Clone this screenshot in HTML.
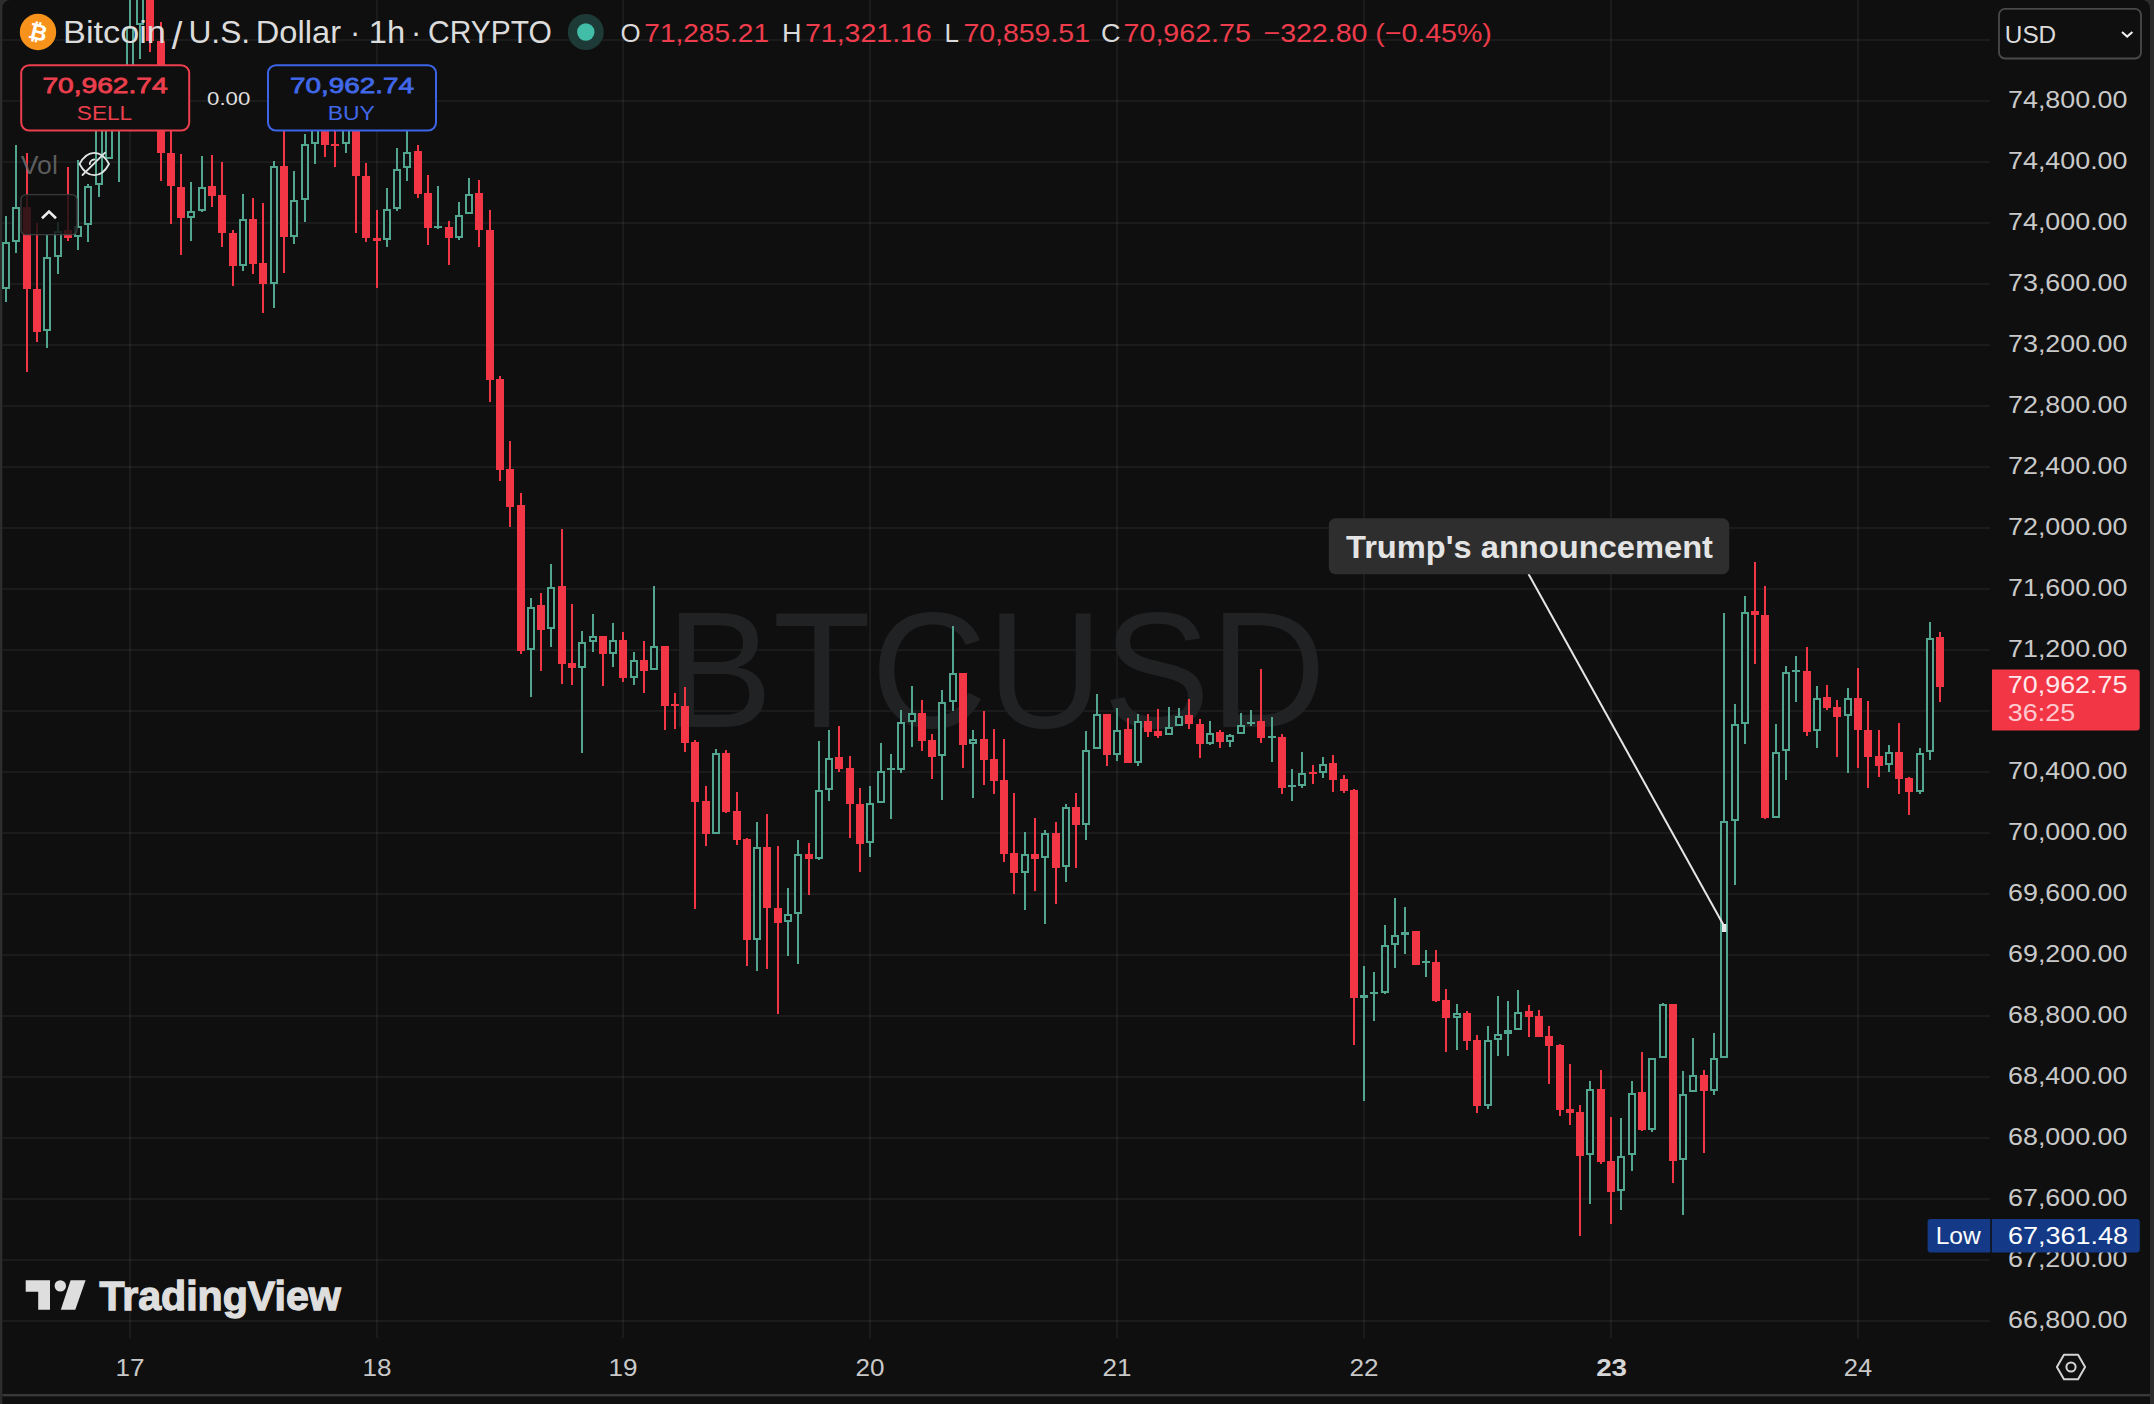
<!DOCTYPE html><html><head><meta charset="utf-8"><title>BTCUSD chart</title>
<style>html,body{margin:0;padding:0;background:#2d2d2d;}svg{display:block}text{font-family:"Liberation Sans",sans-serif;}</style></head><body>
<svg width="2154" height="1404" viewBox="0 0 2154 1404">
<defs><clipPath id="pane"><rect x="2" y="0" width="1988" height="1338"/></clipPath></defs>
<rect width="2154" height="1404" fill="#2d2d2d"/>
<path d="M2.3 1404V8a8 8 0 0 1 8-8H2142a8 8 0 0 1 8 8V1404Z" fill="#0f0f0f"/>
<path d="M2.3 40 H1990 M2.3 101 H1990 M2.3 162 H1990 M2.3 223 H1990 M2.3 284 H1990 M2.3 345 H1990 M2.3 406 H1990 M2.3 467 H1990 M2.3 528 H1990 M2.3 589 H1990 M2.3 650 H1990 M2.3 711 H1990 M2.3 772 H1990 M2.3 833 H1990 M2.3 894 H1990 M2.3 955 H1990 M2.3 1016 H1990 M2.3 1077 H1990 M2.3 1138 H1990 M2.3 1199 H1990 M2.3 1260 H1990 M2.3 1321 H1990" stroke="#fff" stroke-opacity="0.052" stroke-width="2" fill="none"/>
<path d="M130 0 V1338 M377 0 V1338 M623 0 V1338 M870 0 V1338 M1117 0 V1338 M1364 0 V1338 M1611 0 V1338 M1858 0 V1338" stroke="#fff" stroke-opacity="0.052" stroke-width="2" fill="none"/>
<text x="665.63" y="727" font-size="164.5" fill="#202224" textLength="660.46" lengthAdjust="spacingAndGlyphs">BTCUSD</text>
<g clip-path="url(#pane)" shape-rendering="crispEdges">
<path d="M27 153 V372 M37 223 V342 M68 167 V241 M150 -5 V52 M161 22 V181 M171 120 V224 M181 154 V255 M212 155 V207 M222 162 V247 M233 230 V286 M253 198 V274 M263 203 V313 M284 125 V273 M325 110 V157 M335 115 V167 M356 110 V233 M366 163 V242 M377 210 V288 M418 145 V198 M428 175 V245 M449 221 V265 M479 180 V247 M490 210 V402 M500 376 V481 M510 441 V527 M521 493 V654 M541 593 V671 M562 529 V684 M572 604 V685 M603 636 V686 M623 632 V682 M644 641 V693 M665 646 V730 M675 693 V729 M685 687 V752 M695 740 V909 M706 786 V846 M726 750 V813 M737 792 V845 M747 838 V966 M767 814 V969 M778 846 V1014 M809 843 V895 M839 726 V772 M850 756 V838 M860 788 V872 M922 700 V751 M932 734 V779 M963 673 V768 M984 711 V785 M994 729 V794 M1004 739 V862 M1014 793 V894 M1035 818 V891 M1056 822 V904 M1076 793 V868 M1107 714 V766 M1128 718 V763 M1148 714 V737 M1158 709 V738 M1189 699 V729 M1200 719 V758 M1220 730 V748 M1261 669 V743 M1282 734 V794 M1313 765 V784 M1333 755 V792 M1344 775 V793 M1354 789 V1045 M1416 931 V965 M1436 950 V1002 M1446 989 V1052 M1467 1011 V1050 M1477 1035 V1113 M1529 1005 V1037 M1539 1010 V1037 M1549 1026 V1084 M1560 1044 V1116 M1570 1064 V1125 M1580 1105 V1236 M1601 1070 V1164 M1611 1117 V1224 M1642 1052 V1131 M1673 1004 V1183 M1704 1070 V1153 M1755 562 V664 M1765 586 V819 M1807 647 V736 M1827 685 V710 M1837 700 V757 M1858 668 V768 M1868 701 V788 M1879 730 V777 M1899 723 V794 M1909 777 V815 M1940 632 V702" stroke="#f23645" stroke-width="2" fill="none"/>
<path d="M23 207 h8 v82 h-8 Z M33 289 h8 v43 h-8 Z M64 230 h8 v8 h-8 Z M146 -5 h8 v46 h-8 Z M157 41 h8 v112 h-8 Z M167 153 h8 v33 h-8 Z M177 187 h8 v31 h-8 Z M208 186 h8 v10 h-8 Z M218 195 h8 v38 h-8 Z M229 233 h8 v33 h-8 Z M249 219 h8 v45 h-8 Z M259 263 h8 v21 h-8 Z M280 166 h8 v71 h-8 Z M321 120 h8 v25 h-8 Z M331 144 h8 v2 h-8 Z M352 125 h8 v51 h-8 Z M362 176 h8 v62 h-8 Z M373 238 h8 v3 h-8 Z M414 151 h8 v43 h-8 Z M424 193 h8 v35 h-8 Z M445 227 h8 v11 h-8 Z M475 193 h8 v37 h-8 Z M486 230 h8 v150 h-8 Z M496 379 h8 v91 h-8 Z M506 469 h8 v38 h-8 Z M517 505 h8 v146 h-8 Z M537 605 h8 v25 h-8 Z M558 586 h8 v78 h-8 Z M568 663 h8 v5 h-8 Z M599 636 h8 v18 h-8 Z M619 640 h8 v38 h-8 Z M640 660 h8 v11 h-8 Z M661 646 h8 v60 h-8 Z M671 704 h8 v2 h-8 Z M681 706 h8 v37 h-8 Z M691 742 h8 v60 h-8 Z M702 801 h8 v33 h-8 Z M722 753 h8 v59 h-8 Z M733 811 h8 v29 h-8 Z M743 839 h8 v101 h-8 Z M763 847 h8 v61 h-8 Z M774 908 h8 v15 h-8 Z M805 854 h8 v5 h-8 Z M835 757 h8 v12 h-8 Z M846 768 h8 v36 h-8 Z M856 804 h8 v40 h-8 Z M918 713 h8 v28 h-8 Z M928 740 h8 v17 h-8 Z M959 673 h8 v72 h-8 Z M980 739 h8 v21 h-8 Z M990 759 h8 v22 h-8 Z M1000 780 h8 v74 h-8 Z M1010 853 h8 v20 h-8 Z M1031 854 h8 v5 h-8 Z M1052 833 h8 v35 h-8 Z M1072 807 h8 v18 h-8 Z M1103 714 h8 v41 h-8 Z M1124 729 h8 v34 h-8 Z M1144 721 h8 v11 h-8 Z M1154 731 h8 v5 h-8 Z M1185 715 h8 v9 h-8 Z M1196 724 h8 v20 h-8 Z M1216 732 h8 v10 h-8 Z M1257 721 h8 v17 h-8 Z M1278 737 h8 v51 h-8 Z M1309 772 h8 v2 h-8 Z M1329 763 h8 v17 h-8 Z M1340 779 h8 v12 h-8 Z M1350 790 h8 v208 h-8 Z M1412 931 h8 v34 h-8 Z M1432 962 h8 v39 h-8 Z M1442 1000 h8 v18 h-8 Z M1463 1013 h8 v28 h-8 Z M1473 1040 h8 v66 h-8 Z M1525 1011 h8 v6 h-8 Z M1535 1016 h8 v21 h-8 Z M1545 1036 h8 v10 h-8 Z M1556 1045 h8 v65 h-8 Z M1566 1109 h8 v4 h-8 Z M1576 1112 h8 v44 h-8 Z M1597 1089 h8 v73 h-8 Z M1607 1161 h8 v31 h-8 Z M1638 1092 h8 v38 h-8 Z M1669 1004 h8 v157 h-8 Z M1700 1075 h8 v16 h-8 Z M1751 611 h8 v4 h-8 Z M1761 615 h8 v203 h-8 Z M1803 671 h8 v61 h-8 Z M1823 697 h8 v11 h-8 Z M1833 707 h8 v10 h-8 Z M1854 698 h8 v32 h-8 Z M1864 730 h8 v27 h-8 Z M1875 756 h8 v10 h-8 Z M1895 752 h8 v27 h-8 Z M1905 778 h8 v14 h-8 Z M1936 637 h8 v50 h-8 Z" fill="#f23645"/>
<path d="M6 216 V242 M6 289 V302 M16 145 V207 M16 242 V253 M47 235 V257 M47 331 V348 M58 222 V231 M58 257 V274 M78 160 V226 M78 237 V250 M88 184 V186 M88 225 V242 M99 90 V100 M99 185 V197 M109 70 V80 M119 66 V75 M119 125 V182 M130 -5 V27 M140 25 V59 M191 182 V211 M191 218 V241 M202 156 V187 M202 211 V212 M243 194 V219 M243 266 V271 M274 161 V166 M274 284 V308 M294 171 V200 M294 237 V244 M305 134 V144 M305 200 V222 M315 110 V120 M315 144 V164 M346 110 V120 M346 144 V153 M387 188 V209 M387 240 V247 M397 148 V169 M397 209 V211 M407 120 V152 M407 168 V181 M438 186 V226 M438 228 V229 M459 202 V215 M459 238 V240 M469 178 V194 M531 598 V607 M531 650 V697 M551 564 V587 M551 629 V647 M582 631 V642 M582 668 V753 M593 614 V636 M593 642 V652 M613 623 V640 M613 654 V667 M634 652 V660 M634 678 V685 M654 586 V646 M716 749 V753 M757 822 V847 M757 940 V971 M788 888 V914 M788 922 V956 M798 840 V854 M798 914 V964 M819 741 V790 M819 859 V860 M829 730 V758 M829 790 V801 M870 786 V803 M870 843 V857 M881 743 V771 M891 754 V768 M891 770 V819 M901 710 V722 M901 770 V773 M912 686 V713 M912 722 V747 M942 690 V702 M942 756 V800 M953 626 V673 M953 702 V711 M973 730 V739 M973 744 V798 M1025 832 V854 M1025 873 V910 M1045 830 V833 M1045 858 V924 M1066 804 V807 M1066 867 V882 M1086 731 V750 M1086 825 V840 M1097 694 V714 M1117 708 V730 M1117 755 V761 M1138 714 V721 M1138 763 V766 M1169 707 V727 M1179 708 V716 M1210 721 V733 M1210 744 V745 M1230 734 V735 M1230 742 V747 M1241 713 V725 M1251 710 V722 M1251 724 V726 M1272 717 V736 M1272 738 V762 M1292 769 V785 M1292 787 V801 M1302 752 V773 M1302 786 V788 M1323 757 V764 M1323 773 V778 M1364 966 V995 M1364 998 V1101 M1374 972 V992 M1374 994 V1021 M1385 925 V945 M1385 993 V994 M1395 898 V935 M1395 945 V968 M1405 907 V932 M1405 935 V954 M1426 950 V961 M1426 963 V977 M1457 1004 V1013 M1457 1018 V1050 M1488 1026 V1040 M1488 1106 V1109 M1498 996 V1034 M1498 1040 V1056 M1508 1001 V1030 M1508 1034 V1056 M1518 990 V1012 M1590 1081 V1089 M1590 1155 V1204 M1621 1118 V1156 M1621 1191 V1210 M1632 1081 V1093 M1632 1155 V1171 M1652 1130 V1132 M1663 1003 V1004 M1683 1071 V1094 M1683 1160 V1215 M1693 1038 V1075 M1714 1033 V1058 M1714 1091 V1095 M1724 613 V821 M1735 704 V724 M1735 821 V885 M1745 596 V612 M1745 724 V744 M1776 724 V752 M1786 666 V672 M1786 751 V780 M1796 656 V670 M1796 672 V702 M1817 686 V698 M1817 731 V748 M1848 688 V698 M1848 716 V773 M1889 745 V752 M1889 765 V772 M1920 748 V753 M1920 792 V794 M1930 622 V638 M1930 752 V760" stroke="#52a690" stroke-width="2" fill="none"/>
<path d="M3 243 h6 v45 h-6 Z M13 208 h6 v33 h-6 Z M44 258 h6 v72 h-6 Z M55 232 h6 v24 h-6 Z M75 227 h6 v9 h-6 Z M85 187 h6 v37 h-6 Z M96 101 h6 v83 h-6 Z M106 81 h6 v77 h-6 Z M116 76 h6 v48 h-6 Z M127 28 h6 v81 h-6 Z M137 -4 h6 v28 h-6 Z M188 212 h6 v5 h-6 Z M199 188 h6 v22 h-6 Z M240 220 h6 v45 h-6 Z M271 167 h6 v116 h-6 Z M291 201 h6 v35 h-6 Z M302 145 h6 v54 h-6 Z M312 121 h6 v22 h-6 Z M343 121 h6 v22 h-6 Z M384 210 h6 v29 h-6 Z M394 170 h6 v38 h-6 Z M404 153 h6 v14 h-6 Z M456 216 h6 v21 h-6 Z M466 195 h6 v18 h-6 Z M528 608 h6 v41 h-6 Z M548 588 h6 v40 h-6 Z M579 643 h6 v24 h-6 Z M590 637 h6 v4 h-6 Z M610 641 h6 v12 h-6 Z M631 661 h6 v16 h-6 Z M651 647 h6 v22 h-6 Z M713 754 h6 v79 h-6 Z M754 848 h6 v91 h-6 Z M785 915 h6 v6 h-6 Z M795 855 h6 v58 h-6 Z M816 791 h6 v67 h-6 Z M826 759 h6 v30 h-6 Z M867 804 h6 v38 h-6 Z M878 772 h6 v30 h-6 Z M898 723 h6 v46 h-6 Z M909 714 h6 v7 h-6 Z M939 703 h6 v52 h-6 Z M950 674 h6 v27 h-6 Z M970 740 h6 v3 h-6 Z M1022 855 h6 v17 h-6 Z M1042 834 h6 v23 h-6 Z M1063 808 h6 v58 h-6 Z M1083 751 h6 v73 h-6 Z M1094 715 h6 v33 h-6 Z M1114 731 h6 v23 h-6 Z M1135 722 h6 v40 h-6 Z M1166 728 h6 v6 h-6 Z M1176 717 h6 v8 h-6 Z M1207 734 h6 v9 h-6 Z M1227 736 h6 v5 h-6 Z M1238 726 h6 v7 h-6 Z M1299 774 h6 v11 h-6 Z M1320 765 h6 v7 h-6 Z M1382 946 h6 v46 h-6 Z M1392 936 h6 v8 h-6 Z M1454 1014 h6 v3 h-6 Z M1485 1041 h6 v64 h-6 Z M1495 1035 h6 v4 h-6 Z M1515 1013 h6 v16 h-6 Z M1587 1090 h6 v64 h-6 Z M1618 1157 h6 v33 h-6 Z M1629 1094 h6 v60 h-6 Z M1649 1059 h6 v70 h-6 Z M1660 1005 h6 v52 h-6 Z M1680 1095 h6 v64 h-6 Z M1690 1076 h6 v15 h-6 Z M1711 1059 h6 v31 h-6 Z M1721 822 h6 v235 h-6 Z M1732 725 h6 v95 h-6 Z M1742 613 h6 v110 h-6 Z M1773 753 h6 v64 h-6 Z M1783 673 h6 v77 h-6 Z M1814 699 h6 v31 h-6 Z M1845 699 h6 v16 h-6 Z M1886 753 h6 v11 h-6 Z M1917 754 h6 v37 h-6 Z M1927 639 h6 v112 h-6 Z" stroke="#52a690" stroke-width="2" fill="#0f0f0f"/>
<path d="M434 226 h8 v2 h-8 Z M887 768 h8 v2 h-8 Z M1247 722 h8 v2 h-8 Z M1268 736 h8 v2 h-8 Z M1288 785 h8 v2 h-8 Z M1360 995 h8 v3 h-8 Z M1370 992 h8 v2 h-8 Z M1401 932 h8 v3 h-8 Z M1422 961 h8 v2 h-8 Z M1504 1030 h8 v4 h-8 Z M1792 670 h8 v2 h-8 Z" fill="#52a690"/>
</g>
<path d="M1528.5 574 L1723.5 925" stroke="#e6e6e6" stroke-width="2" fill="none"/>
<rect x="1722" y="924" width="4.4" height="8" fill="#e6e6e6"/>
<rect x="1328.8" y="518.2" width="400.4" height="56" rx="7" fill="#2e2e2e"/>
<text x="1346" y="557.6" font-size="30.5" fill="#e4e4e4" font-weight="700" textLength="367" lengthAdjust="spacingAndGlyphs">Trump's announcement</text>
<circle cx="38" cy="32" r="18.2" fill="#f7931a"/>
<text x="38" y="40" font-size="22.5" font-weight="700" fill="#fff" text-anchor="middle" transform="rotate(14 38 32)" style="font-family:'DejaVu Sans',sans-serif">₿</text>
<text x="63.12" y="43.4" font-size="30.7" fill="#dcdcdc" textLength="102.74" lengthAdjust="spacingAndGlyphs">Bitcoin</text>
<text x="171.85" y="48.6" font-size="38" fill="#dcdcdc">/</text>
<text x="188.45" y="43.4" font-size="30.7" fill="#dcdcdc" textLength="61.71" lengthAdjust="spacingAndGlyphs">U.S.</text>
<text x="255.8" y="43.4" font-size="30.7" fill="#dcdcdc" textLength="85.2" lengthAdjust="spacingAndGlyphs">Dollar</text>
<text x="350.1" y="43.4" font-size="30.7" fill="#dcdcdc">·</text>
<text x="368.71" y="43.4" font-size="30.7" fill="#dcdcdc" textLength="36.37" lengthAdjust="spacingAndGlyphs">1h</text>
<text x="410.9" y="43.4" font-size="30.7" fill="#dcdcdc">·</text>
<text x="428.01" y="43.4" font-size="30.7" fill="#dcdcdc" textLength="123.78" lengthAdjust="spacingAndGlyphs">CRYPTO</text>
<circle cx="585.8" cy="32" r="18" fill="#1d3a36"/><circle cx="585.8" cy="32" r="8.7" fill="#42bda8"/>
<text x="620.61" y="42.1" font-size="26.1" fill="#dadada" textLength="20.07" lengthAdjust="spacingAndGlyphs">O</text>
<text x="644.3" y="42.1" font-size="26.1" fill="#ee3c4c" textLength="124.7" lengthAdjust="spacingAndGlyphs">71,285.21</text>
<text x="782.01" y="42.1" font-size="26.1" fill="#dadada" textLength="19.55" lengthAdjust="spacingAndGlyphs">H</text>
<text x="805" y="42.1" font-size="26.1" fill="#ee3c4c" textLength="126.79" lengthAdjust="spacingAndGlyphs">71,321.16</text>
<text x="944.52" y="42.1" font-size="26.1" fill="#dadada" textLength="14.47" lengthAdjust="spacingAndGlyphs">L</text>
<text x="963.41" y="42.1" font-size="26.1" fill="#ee3c4c" textLength="126.59" lengthAdjust="spacingAndGlyphs">70,859.51</text>
<text x="1100.98" y="42.1" font-size="26.1" fill="#dadada" textLength="19.52" lengthAdjust="spacingAndGlyphs">C</text>
<text x="1123.62" y="42.1" font-size="26.1" fill="#ee3c4c" textLength="127.18" lengthAdjust="spacingAndGlyphs">70,962.75</text>
<text x="1263.5" y="42.1" font-size="26.1" fill="#ee3c4c" textLength="228.3" lengthAdjust="spacingAndGlyphs">−322.80 (−0.45%)</text>
<rect x="21.2" y="65.2" width="168" height="65.4" rx="8" fill="#0f0f0f" stroke="#ec3f4e" stroke-width="2"/>
<text x="42.4" y="93.4" font-size="22.5" fill="#ec3f4e" textLength="125.2" lengthAdjust="spacingAndGlyphs" stroke="#ec3f4e" stroke-width="0.8">70,962.74</text>
<text x="76.79" y="120" font-size="20" fill="#ec3f4e" textLength="55.42" lengthAdjust="spacingAndGlyphs">SELL</text>
<text x="207.11" y="104.6" font-size="18.5" fill="#e0e0e0" textLength="43.19" lengthAdjust="spacingAndGlyphs">0.00</text>
<rect x="268" y="65.2" width="168" height="65.4" rx="8" fill="#0f0f0f" stroke="#3d64e6" stroke-width="2"/>
<text x="290" y="93.4" font-size="22.5" fill="#4068e8" textLength="124" lengthAdjust="spacingAndGlyphs" stroke="#4068e8" stroke-width="0.8">70,962.74</text>
<text x="327.73" y="120" font-size="20" fill="#4068e8" textLength="47.16" lengthAdjust="spacingAndGlyphs">BUY</text>
<text x="20.8" y="174" font-size="25.7" fill="#6c6c6c" textLength="37.06" lengthAdjust="spacingAndGlyphs" fill-opacity="0.85">Vol</text>
<g fill="none" stroke="#dfe5e3" stroke-width="1.8" stroke-linecap="round"><path d="M79.5 164C84 155.500 89 152.800 94.300 152.800S104.600 155.500 109 164C104.600 172.500 99.600 175.200 94.300 175.200S84 172.500 79.500 164Z"/><path d="M89.800 164a4.500 4.500 0 0 1 4.500-4.500"/><path d="M82.500 175 L105.100 152.600"/></g>
<rect x="21" y="194.6" width="56" height="40" rx="5" fill="#0f0f0f" fill-opacity="0.82" stroke="#3a3a3a" stroke-width="1.4"/>
<path d="M42 218.300 L49 211.600 L56 218.300" fill="none" stroke="#ececec" stroke-width="2.6"/>
<rect x="1999" y="8.9" width="142" height="49.6" rx="6" fill="#0f0f0f" stroke="#4a4a4a" stroke-width="1.8"/>
<text x="2004.82" y="43" font-size="24.6" fill="#dcdcdc" textLength="51.36" lengthAdjust="spacingAndGlyphs">USD</text>
<path d="M2122 32 L2127.200 36.600 L2132.400 32" fill="none" stroke="#f0f0f0" stroke-width="2"/>
<text x="2008" y="108.3" font-size="24" fill="#c9c9c9" textLength="119.5" lengthAdjust="spacingAndGlyphs">74,800.00</text>
<text x="2008" y="169.3" font-size="24" fill="#c9c9c9" textLength="119.5" lengthAdjust="spacingAndGlyphs">74,400.00</text>
<text x="2008" y="230.3" font-size="24" fill="#c9c9c9" textLength="119.5" lengthAdjust="spacingAndGlyphs">74,000.00</text>
<text x="2008" y="291.3" font-size="24" fill="#c9c9c9" textLength="119.5" lengthAdjust="spacingAndGlyphs">73,600.00</text>
<text x="2008" y="352.3" font-size="24" fill="#c9c9c9" textLength="119.5" lengthAdjust="spacingAndGlyphs">73,200.00</text>
<text x="2008" y="413.3" font-size="24" fill="#c9c9c9" textLength="119.5" lengthAdjust="spacingAndGlyphs">72,800.00</text>
<text x="2008" y="474.3" font-size="24" fill="#c9c9c9" textLength="119.5" lengthAdjust="spacingAndGlyphs">72,400.00</text>
<text x="2008" y="535.3" font-size="24" fill="#c9c9c9" textLength="119.5" lengthAdjust="spacingAndGlyphs">72,000.00</text>
<text x="2008" y="596.3" font-size="24" fill="#c9c9c9" textLength="119.5" lengthAdjust="spacingAndGlyphs">71,600.00</text>
<text x="2008" y="657.3" font-size="24" fill="#c9c9c9" textLength="119.5" lengthAdjust="spacingAndGlyphs">71,200.00</text>
<text x="2008" y="718.3" font-size="24" fill="#c9c9c9" textLength="119.5" lengthAdjust="spacingAndGlyphs">70,800.00</text>
<text x="2008" y="779.3" font-size="24" fill="#c9c9c9" textLength="119.5" lengthAdjust="spacingAndGlyphs">70,400.00</text>
<text x="2008" y="840.3" font-size="24" fill="#c9c9c9" textLength="119.5" lengthAdjust="spacingAndGlyphs">70,000.00</text>
<text x="2008" y="901.3" font-size="24" fill="#c9c9c9" textLength="119.5" lengthAdjust="spacingAndGlyphs">69,600.00</text>
<text x="2008" y="962.3" font-size="24" fill="#c9c9c9" textLength="119.5" lengthAdjust="spacingAndGlyphs">69,200.00</text>
<text x="2008" y="1023.3" font-size="24" fill="#c9c9c9" textLength="119.5" lengthAdjust="spacingAndGlyphs">68,800.00</text>
<text x="2008" y="1084.3" font-size="24" fill="#c9c9c9" textLength="119.5" lengthAdjust="spacingAndGlyphs">68,400.00</text>
<text x="2008" y="1145.3" font-size="24" fill="#c9c9c9" textLength="119.5" lengthAdjust="spacingAndGlyphs">68,000.00</text>
<text x="2008" y="1206.3" font-size="24" fill="#c9c9c9" textLength="119.5" lengthAdjust="spacingAndGlyphs">67,600.00</text>
<text x="2008" y="1267.3" font-size="24" fill="#c9c9c9" textLength="119.5" lengthAdjust="spacingAndGlyphs">67,200.00</text>
<text x="2008" y="1328.3" font-size="24" fill="#c9c9c9" textLength="119.5" lengthAdjust="spacingAndGlyphs">66,800.00</text>
<path d="M1992 669.4H2136.700a3 3 0 0 1 3 3V727.500a3 3 0 0 1 -3 3H1992Z" fill="#f23645"/>
<text x="2007.79" y="693.1" font-size="24" fill="#ffe9ec" textLength="119.71" lengthAdjust="spacingAndGlyphs">70,962.75</text>
<text x="2007.78" y="721.3" font-size="24" fill="#ffc9cf" textLength="67.42" lengthAdjust="spacingAndGlyphs">36:25</text>
<path d="M1930.6 1219H1990.300V1252.600H1930.600a3 3 0 0 1 -3 -3V1222a3 3 0 0 1 3 -3Z" fill="#143a87"/>
<path d="M1991.8 1219H2136.800a3 3 0 0 1 3 3V1249.600a3 3 0 0 1 -3 3H1991.800Z" fill="#143a87"/>
<text x="1935.66" y="1243.6" font-size="23" fill="#fff" textLength="45.06" lengthAdjust="spacingAndGlyphs">Low</text>
<text x="2007.99" y="1243.6" font-size="24" fill="#fff" textLength="119.9" lengthAdjust="spacingAndGlyphs">67,361.48</text>
<text x="115.5" y="1376" font-size="24" fill="#c9c9c9" textLength="29" lengthAdjust="spacingAndGlyphs">17</text>
<text x="362.5" y="1376" font-size="24" fill="#c9c9c9" textLength="29" lengthAdjust="spacingAndGlyphs">18</text>
<text x="608.5" y="1376" font-size="24" fill="#c9c9c9" textLength="29" lengthAdjust="spacingAndGlyphs">19</text>
<text x="855.5" y="1376" font-size="24" fill="#c9c9c9" textLength="29" lengthAdjust="spacingAndGlyphs">20</text>
<text x="1102.5" y="1376" font-size="24" fill="#c9c9c9" textLength="29" lengthAdjust="spacingAndGlyphs">21</text>
<text x="1349.5" y="1376" font-size="24" fill="#c9c9c9" textLength="29" lengthAdjust="spacingAndGlyphs">22</text>
<text x="1596.16" y="1376" font-size="24" fill="#d6d6d6" font-weight="700" textLength="30.87" lengthAdjust="spacingAndGlyphs">23</text>
<text x="1843.72" y="1376" font-size="24" fill="#c9c9c9" textLength="28.38" lengthAdjust="spacingAndGlyphs">24</text>
<polygon points="2085.1,1367 2078.05,1379.21 2063.95,1379.21 2056.9,1367 2063.95,1354.79 2078.05,1354.79" fill="none" stroke="#d4d4d4" stroke-width="2" stroke-linejoin="round"/>
<circle cx="2071" cy="1367" r="4.6" fill="none" stroke="#d4d4d4" stroke-width="2"/>
<rect x="2.3" y="1394" width="2147.7" height="2.4" fill="#393939"/>
<g fill="#dedede"><path d="M25.7 1280.300H50V1309.700H38.200V1291.800H25.700Z"/><circle cx="60.3" cy="1285.900" r="5.700"/><path d="M70.6 1280.300H85.600L75.300 1309.700H60.800Z"/></g>
<text x="99.4" y="1309.7" font-size="41" fill="#dedede" font-weight="700" textLength="241.4" lengthAdjust="spacingAndGlyphs" stroke="#dedede" stroke-width="1.3">TradingView</text>
</svg></body></html>
